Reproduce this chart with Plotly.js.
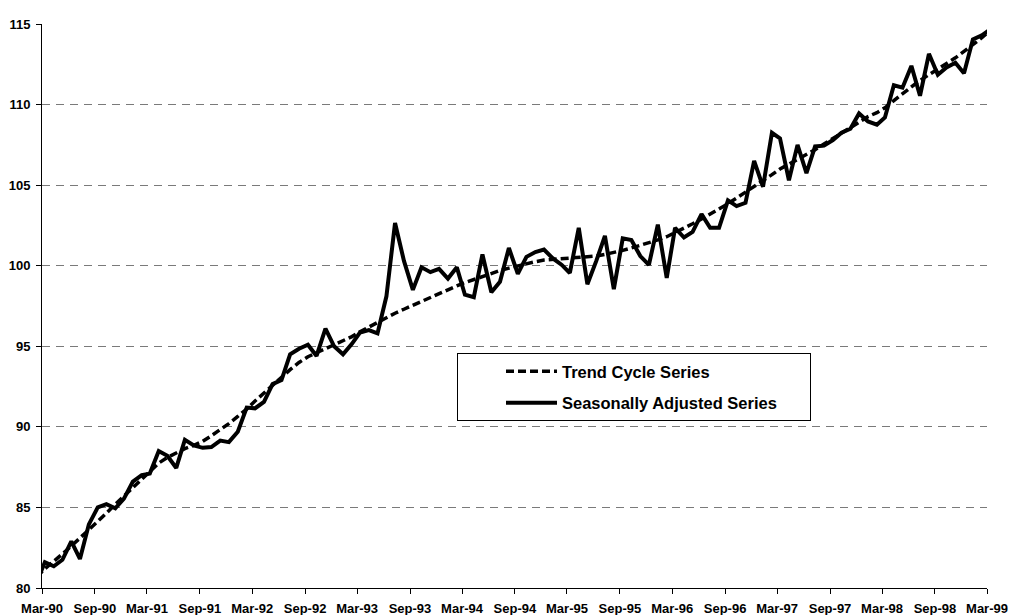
<!DOCTYPE html>
<html><head><meta charset="utf-8">
<script src="https://cdn.plot.ly/plotly-3.0.1.min.js"></script>
<style>html,body{margin:0;padding:0;background:#fff}#chart{width:1011px;height:615px}</style>
</head><body><div id="chart"></div>
<script>
// Monthly observations, Feb-1990 .. Mar-1999
const firstYear = 1990;
const firstMonth = 2;
const trendCycle = [
  80.7, 81.2, 81.65, 82.1, 82.6, 83.1, 83.6, 84.1, 84.65, 85.2,
  85.7, 86.2, 86.7, 87.2, 87.75, 88.1, 88.4, 88.65, 88.85, 89.1,
  89.45, 89.8, 90.2, 90.65, 91.1, 91.6, 92.1, 92.6, 93.1, 93.55,
  94.0, 94.35, 94.6, 94.85, 95.1, 95.35, 95.6, 95.9, 96.2, 96.5,
  96.8, 97.05, 97.3, 97.55, 97.8, 98.05, 98.3, 98.5, 98.75, 98.95,
  99.15, 99.35, 99.55, 99.7, 99.85, 100.0, 100.15, 100.25, 100.35, 100.4,
  100.45, 100.45, 100.5, 100.55, 100.6, 100.7, 100.8, 100.95, 101.1, 101.25,
  101.4, 101.6, 101.8, 102.05, 102.3, 102.6, 102.9, 103.2, 103.5, 103.85,
  104.2, 104.55, 104.95, 105.3, 105.65, 106.0, 106.3, 106.6, 106.9, 107.2,
  107.55, 107.9, 108.25, 108.6, 108.95, 109.25, 109.5, 109.8, 110.25, 110.7,
  111.1, 111.5, 111.85, 112.2, 112.55, 112.9, 113.3, 113.7, 114.15, 114.6
];
const seasonallyAdjusted = [
  80.4, 81.6, 81.35, 81.75, 82.9, 81.8, 83.95, 85.0, 85.2, 84.95,
  85.55, 86.6, 87.0, 87.1, 88.5, 88.2, 87.45, 89.2, 88.85, 88.7,
  88.75, 89.15, 89.05, 89.7, 91.2, 91.15, 91.55, 92.65, 92.9, 94.5,
  94.85, 95.1, 94.4, 96.1, 95.0, 94.5, 95.15, 95.85, 96.0, 95.8,
  98.1, 102.65, 100.3, 98.5, 99.9, 99.6, 99.8, 99.2, 99.9, 98.2,
  98.05, 100.7, 98.35, 99.0, 101.1, 99.5, 100.55, 100.85, 101.0, 100.45,
  100.05, 99.55, 102.35, 98.85, 100.3, 101.85, 98.55, 101.7, 101.6, 100.6,
  100.05, 102.55, 99.25, 102.35, 101.75, 102.1, 103.2, 102.35, 102.35, 104.05,
  103.7, 103.9, 106.5, 104.9, 108.25, 107.9, 105.3, 107.5, 105.75, 107.4,
  107.45, 107.8, 108.25, 108.5, 109.45, 108.95, 108.75, 109.2, 111.2, 111.05,
  112.4, 110.55, 113.15, 111.85, 112.3, 112.6, 111.95, 114.05, 114.3, 114.65
];
const tickValues = [
  '1990-03-01','1990-09-01','1991-03-01','1991-09-01','1992-03-01','1992-09-01',
  '1993-03-01','1993-09-01','1994-03-01','1994-09-01','1995-03-01','1995-09-01',
  '1996-03-01','1996-09-01','1997-03-01','1997-09-01','1998-03-01','1998-09-01','1999-03-01'
];
const tickLabels = [
  'Mar-90','Sep-90','Mar-91','Sep-91','Mar-92','Sep-92','Mar-93','Sep-93','Mar-94',
  'Sep-94','Mar-95','Sep-95','Mar-96','Sep-96','Mar-97','Sep-97','Mar-98','Sep-98','Mar-99'
];
const yTicks = [80, 85, 90, 95, 100, 105, 110, 115];
const seriesNames = ['Trend Cycle Series', 'Seasonally Adjusted Series'];

const months = seasonallyAdjusted.map((_, k) => {
  const m0 = firstMonth - 1 + k;
  const y = firstYear + Math.floor(m0 / 12);
  const m = (m0 % 12) + 1;
  return y + '-' + String(m).padStart(2, '0') + '-11';
});

const FONT = 'Liberation Sans, Arial, Helvetica, sans-serif';
// trailing no-break spaces widen the legend box like the original frame
const PAD = '\u00a0\u00a0\u00a0\u00a0\u00a0\u00a0';

const traces = [
  {
    x: months, y: trendCycle, type: 'scatter', mode: 'lines',
    name: seriesNames[0], legendgroup: 'a',
    line: {color: '#000', width: 3.5, dash: '8px,4px'}
  },
  {
    x: months, y: seasonallyAdjusted, type: 'scatter', mode: 'lines',
    name: seriesNames[1] + PAD, legendgroup: 'b',
    line: {color: '#000', width: 4}
  }
];

const layout = {
  width: 1011, height: 615, autosize: false,
  margin: {l: 42, r: 24, t: 24, b: 27, pad: 0},
  paper_bgcolor: '#fff', plot_bgcolor: '#fff',
  font: {family: FONT, size: 13, color: '#000', weight: 'bold'},
  showlegend: true,
  legend: {
    x: (457 - 42) / 945, y: (588 - 353) / 564, xanchor: 'left', yanchor: 'top',
    bgcolor: '#fff', bordercolor: '#000', borderwidth: 1,
    font: {family: FONT, size: 16.5, color: '#000', weight: 'bold'},
    traceorder: 'grouped', tracegroupgap: 7, itemwidth: 51, indentation: 43
  },
  xaxis: {
    type: 'date', range: ['1990-03-01', '1999-03-01'], fixedrange: true,
    tickmode: 'array', tickvals: tickValues, ticktext: tickLabels,
    showgrid: false, zeroline: false,
    showline: true, linecolor: '#000', linewidth: 1,
    ticks: 'outside', ticklen: 5, tickcolor: '#000', tickwidth: 1,
    ticklabelstandoff: 3,
    tickfont: {family: FONT, size: 13, color: '#000', weight: 'bold'}
  },
  yaxis: {
    range: [80, 115], fixedrange: true,
    tickmode: 'array', tickvals: yTicks,
    showgrid: true, gridcolor: '#7a7a7a', gridwidth: 1, griddash: '8px,6px',
    zeroline: false,
    showline: true, linecolor: '#000', linewidth: 1,
    ticks: 'outside', ticklen: 5, tickcolor: '#000', tickwidth: 1,
    ticklabelstandoff: 3,
    tickfont: {family: FONT, size: 13, color: '#000', weight: 'bold'}
  }
};

Plotly.newPlot('chart', traces, layout, {displayModeBar: false, staticPlot: true});
</script>
</body></html>
